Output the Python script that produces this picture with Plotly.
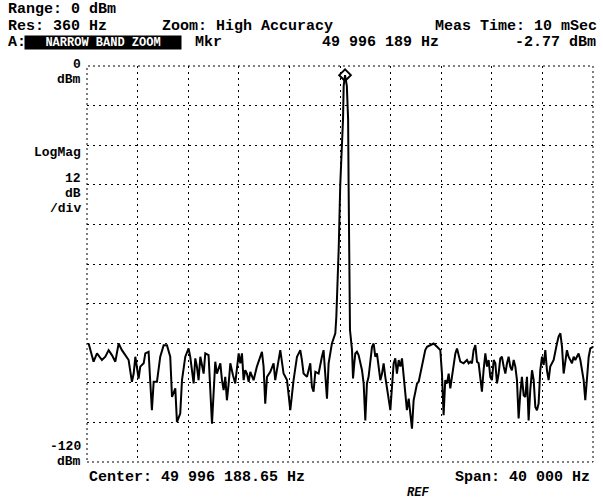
import plotly.graph_objects as go

# ---------------- data ----------------
header_range = "Range: 0 dBm"
header_res = "Res: 360 Hz"
header_zoom = "Zoom: High Accuracy"
header_meas = "Meas Time: 10 mSec"
trace_name = "NARROW BAND ZOOM"
marker_freq_label = "49 996 189 Hz"
marker_level_label = "-2.77 dBm"
center_label = "Center: 49 996 188.65 Hz"
span_label = "Span: 40 000 Hz"

span_hz = 40000
ref_dbm = 0
scale_db_per_div = 12
n_div_y = 10

# frequency offset from centre (Hz) and level (dBm)
offset_hz = [
    -19870, -19480, -19210, -18820, -18550, -18290, -18030, -17760, -17500, -17240,
    -16970, -16710, -16450, -16310, -16180, -16050, -15920, -15790, -15520, -15390,
    -15130, -15000, -14870, -14730, -14470, -14210, -13940, -13680, -13420, -13280,
    -13020, -12890, -12630, -12490, -12230, -11970, -11840, -11570, -11440, -11310,
    -11180, -11040, -10780, -10650, -10390, -10120, -9990, -9860, -9730, -9460,
    -9330, -9200, -9070, -8940, -8800, -8670, -8460, -8280, -8010, -7880,
    -7750, -7620, -7490, -7360, -7220, -7090, -6830, -6570, -6170, -6040,
    -5910, -5770, -5510, -5250, -5120, -4850, -4720, -4460, -4190, -3930,
    -3670, -3400, -3140, -3010, -2880, -2610, -2350, -2220, -2090, -1950,
    -1690, -1430, -1300, -1030, -900, -640, -370,
    -290, -210, -100, 20, 140, 240, 290, 400, 540, 640, 680, 720, 760, 790,
    950, 1030, 1130, 1210, 1340, 1470, 1740, 1870, 2000, 2130,
    2260, 2400, 2530, 2660, 2790, 2920, 3050, 3190, 3320, 3450,
    3580, 3710, 3850, 3980, 4110, 4240, 4370, 4500, 4640, 4770,
    4900, 5030, 5160, 5290, 5430, 5560, 5690, 5820, 5950, 6090,
    6220, 6350, 6480, 6610, 6740, 6880, 7140, 7400, 7670, 7930,
    8060, 8190, 8320, 8460, 8590, 8720, 8850, 8980, 9120, 9250,
    9380, 9510, 9770, 10040, 10170, 10300, 10430, 10560, 10700, 10830,
    10960, 11090, 11220, 11350, 11490, 11620, 11750, 11880, 12010, 12150,
    12280, 12410, 12540, 12670, 12800, 12940, 13070, 13200, 13330, 13460,
    13590, 13730, 13860, 13990, 14120, 14250, 14380, 14520, 14650, 14780,
    14910, 15040, 15180, 15310, 15440, 15570, 15700, 15830, 15970, 16100,
    16230, 16360, 16490, 16620, 16890, 17150, 17280, 17420, 17550, 17680,
    17810, 17940, 18070, 18210, 18340, 18470, 18600, 18730, 18860, 19000,
    19260, 19390, 19520, 19660, 19790, 20000,
]
level_dbm = [
    -84.1, -89.6, -87.1, -89.1, -88.1, -86.1, -87.6, -89.6, -84.1, -86.1,
    -87.6, -89.1, -95.7, -93.2, -88.1, -92.2, -94.7, -91.1, -90.1, -87.1,
    -86.6, -95.7, -104.3, -95.7, -95.7, -88.1, -84.6, -84.6, -88.1, -100.3,
    -97.7, -107.9, -105.3, -95.2, -88.1, -85.6, -88.1, -96.2, -88.6, -91.1,
    -95.2, -88.1, -93.2, -87.1, -87.6, -108.4, -96.2, -89.6, -93.2, -90.1,
    -95.2, -98.2, -94.2, -101.3, -96.2, -90.1, -93.7, -96.2, -87.1, -90.1,
    -87.1, -95.2, -92.2, -93.2, -95.7, -92.7, -95.2, -91.1, -86.6, -91.1,
    -102.3, -94.2, -92.7, -90.1, -95.2, -89.1, -86.1, -93.2, -95.2, -104.3,
    -95.2, -88.1, -86.1, -89.1, -93.2, -94.2, -90.1, -97.2, -98.7, -92.7,
    -93.2, -88.1, -86.1, -100.8, -90.1, -84.1, -81.0,
    -76, -68, -55, -36, -25, -16, -6, -2.77, -6, -16, -36, -55, -70, -80,
    -86.1, -94.7, -90.1, -87.1, -86.6, -87.6, -92.2, -96.2, -107.4, -96.2,
    -94.2, -89.1, -85.1, -84.1, -88.1, -87.1, -91.1, -95.2, -93.2, -90.1,
    -94.2, -97.7, -100.3, -104.3, -97.2, -90.1, -88.6, -93.2, -89.1, -91.1,
    -88.6, -93.2, -98.2, -104.3, -100.8, -105.8, -109.9, -101.3, -98.2, -96.2,
    -95.7, -93.2, -90.1, -88.6, -86.1, -85.1, -84.6, -84.1, -85.1, -86.1,
    -93.2, -105.8, -95.2, -96.2, -93.2, -97.7, -94.2, -91.1, -87.1, -85.6,
    -87.6, -89.6, -90.1, -89.1, -90.1, -89.6, -90.1, -86.1, -84.6, -89.6,
    -90.1, -95.2, -98.7, -92.2, -87.1, -91.1, -89.1, -94.2, -95.2, -89.1,
    -90.1, -96.2, -93.2, -88.6, -88.1, -91.1, -93.2, -90.1, -88.1, -91.1,
    -92.2, -89.1, -91.1, -95.2, -106.8, -99.3, -94.2, -99.8, -100.3, -94.2,
    -107.4, -98.2, -92.2, -95.2, -103.3, -104.3, -102.3, -92.2, -88.1, -90.6,
    -86.1, -92.2, -95.2, -91.1, -89.1, -84.1, -82.0, -81.0, -85.1, -93.2,
    -90.1, -86.1, -88.1, -89.1, -90.1, -88.1, -89.1, -88.1, -87.1, -89.1,
    -95.2, -101.3, -95.2, -88.1, -85.6, -85.1,
]
marker_offset_hz = [400]
marker_level = [-2.77]

# ---------------- layout helpers ----------------
W, H = 603, 500
L, R, T, B = 87, 10, 66, 38
PW, PH = W - L - R, H - T - B
FONT = "Liberation Mono"


def px(x):
    return (x - L) / PW


def py(y):
    return (H - B - y) / PH


fig = go.Figure()
fig.add_trace(go.Scatter(
    x=offset_hz, y=level_dbm, mode="lines",
    line=dict(color="black", width=2), hoverinfo="skip", showlegend=False,
))
fig.add_trace(go.Scatter(
    x=marker_offset_hz, y=marker_level, mode="markers",
    marker=dict(symbol="diamond-open", size=9, color="black", line=dict(width=2, color="black")),
    hoverinfo="skip", showlegend=False,
))

half = span_hz / 2
bottom_dbm = ref_dbm - scale_db_per_div * n_div_y
grid = dict(showgrid=True, gridcolor="black", gridwidth=1, griddash="2px,4px",
            showticklabels=False, zeroline=False, showline=False, ticks="")
fig.update_xaxes(range=[-half, half], dtick=span_hz / 10, tick0=0, **grid)
fig.update_yaxes(range=[bottom_dbm, ref_dbm], dtick=scale_db_per_div, tick0=0, **grid)

fig.add_shape(type="rect", xref="paper", yref="paper", x0=0, x1=1, y0=0, y1=1,
              line=dict(color="black", width=1, dash="2px,3px"))

ann = []


def text(t, x, y, anchor="left", size=15, color="black", **kw):
    ann.append(dict(text=t, x=px(x), y=py(y), xref="paper", yref="paper",
                    xanchor=anchor, yanchor="middle", showarrow=False,
                    font=dict(family=FONT, size=size, color=color, weight="bold"), **kw))


# header
text(header_range, 6, 10)
text(header_res, 6, 26)
text(header_zoom, 160, 26)
text(header_meas, 599, 26, anchor="right")
text("A:", 6, 42)
text(trace_name, 103, 42, anchor="center", size=12, color="white",
     bgcolor="black", width=156, height=13, borderpad=0)
text("Mkr", 193, 42)
text(marker_freq_label, 320, 42)
text(marker_level_label, 598, 42, anchor="right")

# left side labels
LS = 13
text("0", 83, 64, anchor="right", size=LS)
text("dBm", 83, 79, anchor="right", size=LS)
text("LogMag", 83, 152, anchor="right", size=LS)
text(str(scale_db_per_div), 83, 178, anchor="right", size=LS)
text("dB", 83, 193, anchor="right", size=LS)
text("/div", 83, 208, anchor="right", size=LS)
text(str(bottom_dbm), 83, 446, anchor="right", size=LS)
text("dBm", 83, 461, anchor="right", size=LS)

# bottom
text(center_label, 87, 477)
text(span_label, 592, 477, anchor="right")
ann.append(dict(text="<i>REF</i>", x=px(418), y=py(493), xref="paper", yref="paper",
                xanchor="center", yanchor="middle", showarrow=False,
                font=dict(family=FONT, size=12, color="black", weight="bold")))

fig.update_layout(
    width=W, height=H, margin=dict(l=L, r=R, t=T, b=B),
    paper_bgcolor="white", plot_bgcolor="white",
    annotations=ann, showlegend=False,
)

fig.write_html("out.html", config={"displayModeBar": False},
               post_script="document.body.style.margin='0';")
